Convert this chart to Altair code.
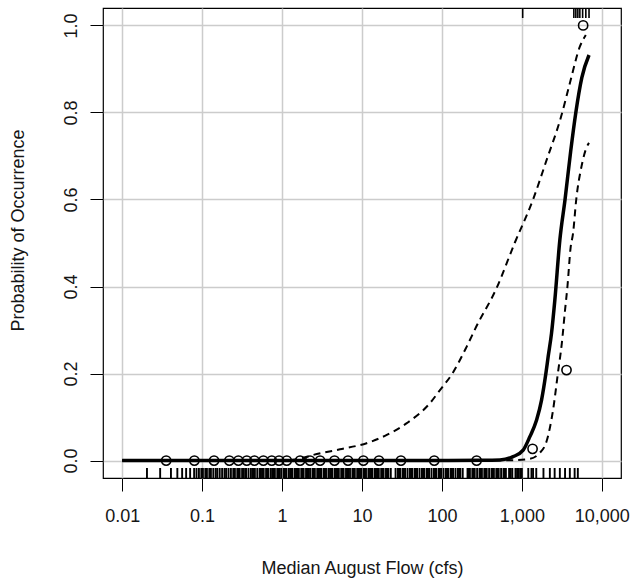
import altair as alt
import pandas as pd

# ---- values (x as log10 of median August flow, cfs) ----
fit_log10 = [-2.0, 1.0, 2.0, 2.5, 2.725, 2.89, 3.016, 3.1, 3.184, 3.246, 3.3, 3.329,
             3.371, 3.4125, 3.475, 3.54, 3.61, 3.675, 3.75, 3.84]
fit_prob = [0.0, 0.0, 0.0003, 0.0007, 0.0015, 0.009, 0.024, 0.055, 0.093, 0.139, 0.20, 0.239,
            0.293, 0.369, 0.507, 0.60, 0.71, 0.80, 0.88, 0.932]

upper_log10 = [-2.0, 0.0, 0.19, 0.39, 0.725, 1.058, 1.31, 1.56, 1.85, 1.975, 2.13, 2.31,
               2.43, 2.68, 2.91, 3.14, 3.31, 3.49, 3.6, 3.725, 3.8]
upper_prob = [0.0, 0.0, 0.003, 0.013, 0.026, 0.040, 0.059, 0.086, 0.132, 0.162, 0.20, 0.262,
              0.308, 0.395, 0.50, 0.60, 0.691, 0.79, 0.867, 0.951, 0.978]

lower_log10 = [-2.0, 2.0, 2.9, 3.1, 3.22, 3.31, 3.39, 3.45, 3.5, 3.54, 3.57, 3.61,
               3.64, 3.68, 3.746, 3.81, 3.84]
lower_prob = [0.0, 0.0, 0.001, 0.004, 0.017, 0.045, 0.116, 0.20, 0.27, 0.346, 0.40, 0.49,
              0.522, 0.60, 0.676, 0.72, 0.73]

obs_flow = [0.0355, 0.080, 0.141, 0.219, 0.284, 0.362, 0.451, 0.584, 0.743, 0.917, 1.145,
            1.68, 2.24, 2.99, 4.53, 6.68, 10.4, 16.3, 30.7, 80.1, 271.6, 1361, 3617, 5839]
obs_prob = [0, 0, 0, 0, 0, 0, 0, 0, 0, 0, 0,
            0, 0, 0, 0, 0, 0, 0, 0, 0, 0, 0.027, 0.208, 1.0]

rug_bottom_log10 = [
    -1.69, -1.525, -1.39, -1.31, -1.25, -1.20, -1.15, -1.10, -1.07, -1.04, -1.01, -0.99,
    -0.96, -0.94, -0.91, -0.89, -0.86, -0.83, -0.81, -0.78, -0.75, -0.72, -0.70, -0.67,
    -0.64, -0.61, -0.59, -0.56, -0.53, -0.50, -0.48, -0.45, -0.42, -0.39, -0.37, -0.34,
    -0.31, -0.28, -0.25, -0.23, -0.20, -0.17, -0.14, -0.12, -0.09, -0.06, -0.03, -0.01,
    0.02, 0.05, 0.08, 0.10, 0.13, 0.16, 0.19, 0.21, 0.24, 0.27, 0.30, 0.33, 0.35, 0.38,
    0.41, 0.44, 0.46, 0.49, 0.52, 0.55, 0.58, 0.60, 0.63, 0.66, 0.69, 0.71, 0.74, 0.77,
    0.80, 0.83, 0.85, 0.88, 0.91, 0.94, 0.96, 0.99, 1.02, 1.05, 1.08, 1.10, 1.13, 1.16,
    1.19, 1.21, 1.24, 1.27, 1.30, 1.33, 1.36, 1.42, 1.45, 1.48, 1.51, 1.54, 1.57, 1.60,
    1.63, 1.66, 1.69, 1.72, 1.75, 1.78, 1.81, 1.84, 1.87, 1.90, 1.93, 1.96, 1.99, 2.02,
    2.05, 2.08, 2.11, 2.14, 2.17, 2.20, 2.23, 2.26, 2.32, 2.35, 2.38, 2.41, 2.44, 2.47,
    2.50, 2.53, 2.56, 2.59, 2.62, 2.65, 2.68, 2.71, 2.74, 2.77, 2.80, 2.84, 2.88, 2.92,
    2.96, 3.00, 3.08, 3.12, 3.14, 3.18, 3.27, 3.35, 3.41, 3.475, 3.54, 3.60, 3.66, 3.70,
    -0.55, -0.46, -0.355, -0.265, -0.185, -0.105, -0.045, 0.035, 0.115, 0.175, 0.255,
    0.315, 0.395, 0.475, 0.535, 0.615, 0.675, 0.755, 0.815, 0.895, 0.975, 1.035, 1.115,
    1.175, 1.255, 1.315, 1.465, 1.525, 1.615, 1.675, 1.765, 1.825, 1.915, 1.975, 2.065,
    2.125, 2.215, 2.335, 2.395, 2.485, 2.545, 2.635, 2.695, 2.785, 2.86, 2.94, 2.98]
rug_top_log10 = [3.01, 3.65, 3.675, 3.70, 3.725, 3.76, 3.80, 3.84]

x_tick_values = [0.01, 0.1, 1, 10, 100, 1000, 10000]
x_tick_labels = ["0.01", "0.1", "1", "10", "100", "1,000", "10,000"]
y_tick_values = [0.0, 0.2, 0.4, 0.6, 0.8, 1.0]

# ---- tables ----
fit_df = pd.DataFrame({"flow": [10 ** v for v in fit_log10], "prob": fit_prob})
upper_df = pd.DataFrame({"flow": [10 ** v for v in upper_log10], "prob": upper_prob})
lower_df = pd.DataFrame({"flow": [10 ** v for v in lower_log10], "prob": lower_prob})
obs_df = pd.DataFrame({"flow": obs_flow, "prob": obs_prob})
rug_bottom_df = pd.DataFrame({"flow": [10 ** v for v in rug_bottom_log10]})
rug_top_df = pd.DataFrame({"flow": [10 ** v for v in rug_top_log10]})

FONT = "Liberation Sans"
TXT = "#151515"

label_expr = ""
for v, lab in zip(x_tick_values[:-1], x_tick_labels[:-1]):
    label_expr += f"datum.value < {v * 3.1623} ? '{lab}' : "
label_expr += f"'{x_tick_labels[-1]}'"

x_scale = alt.Scale(type="log", domain=[10 ** -2.24, 10 ** 4.24], nice=False)
y_scale = alt.Scale(domain=[-0.04, 1.04], nice=False, zero=False)

x_axis = alt.Axis(
    values=x_tick_values, labelExpr=label_expr, title="Median August Flow (cfs)",
    grid=True, gridColor="#cccccc", gridWidth=1.5, domain=False,
    tickSize=13, tickColor="black", tickWidth=1,
    labelFont=FONT, labelFontSize=18, labelColor=TXT, labelPadding=16,
    labelFlush=False, labelOverlap=False,
    titleFont=FONT, titleFontSize=18, titleFontWeight="normal", titleColor=TXT,
    titleY=95, titleBaseline="alphabetic",
)
y_axis = alt.Axis(
    values=y_tick_values, format=".1f", title="Probability of Occurrence",
    grid=True, gridColor="#cccccc", gridWidth=1.5, domain=False,
    tickSize=13, tickColor="black", tickWidth=1,
    labelFont=FONT, labelFontSize=18, labelColor=TXT, labelPadding=10,
    labelAngle=-90, labelAlign="center", labelBaseline="bottom",
    labelFlush=False, labelOverlap=False,
    titleFont=FONT, titleFontSize=18, titleFontWeight="normal", titleColor=TXT,
    titleAngle=-90, titleX=-80, titleY=222, titleAlign="center", titleBaseline="alphabetic",
)


def xq():
    return alt.X("flow:Q", scale=x_scale, axis=x_axis)


def yq():
    return alt.Y("prob:Q", scale=y_scale, axis=y_axis)


upper = alt.Chart(upper_df).mark_line(
    color="black", strokeWidth=2, strokeDash=[7, 5], interpolate="monotone"
).encode(x=xq(), y=yq())
lower = alt.Chart(lower_df).mark_line(
    color="black", strokeWidth=2, strokeDash=[7, 5], interpolate="monotone"
).encode(x=xq(), y=yq())
fit = alt.Chart(fit_df).mark_line(
    color="black", strokeWidth=3.5, interpolate="monotone"
).encode(x=xq(), y=yq())
pts = alt.Chart(obs_df).mark_point(
    shape="circle", filled=False, size=85, strokeWidth=1.6, color="black", opacity=1
).encode(x=xq(), y=yq())
rug_b = alt.Chart(rug_bottom_df).mark_rule(color="black", strokeWidth=1.9).encode(
    x=xq(), y=alt.value(460), y2=alt.value(470)
)
rug_t = alt.Chart(rug_top_df).mark_rule(color="black", strokeWidth=1.6).encode(
    x=xq(), y=alt.value(0), y2=alt.value(10)
)

chart = alt.layer(upper, lower, fit, pts, rug_b, rug_t).properties(
    width=518,
    height=470,
    padding={"left": 103, "top": 8, "right": 14, "bottom": 103},
    autosize=alt.AutoSizeParams(type="none"),
    background="white",
).configure_view(stroke="black", strokeWidth=1.2)

chart.save("out.html", embed_options={"renderer": "svg", "actions": False})
